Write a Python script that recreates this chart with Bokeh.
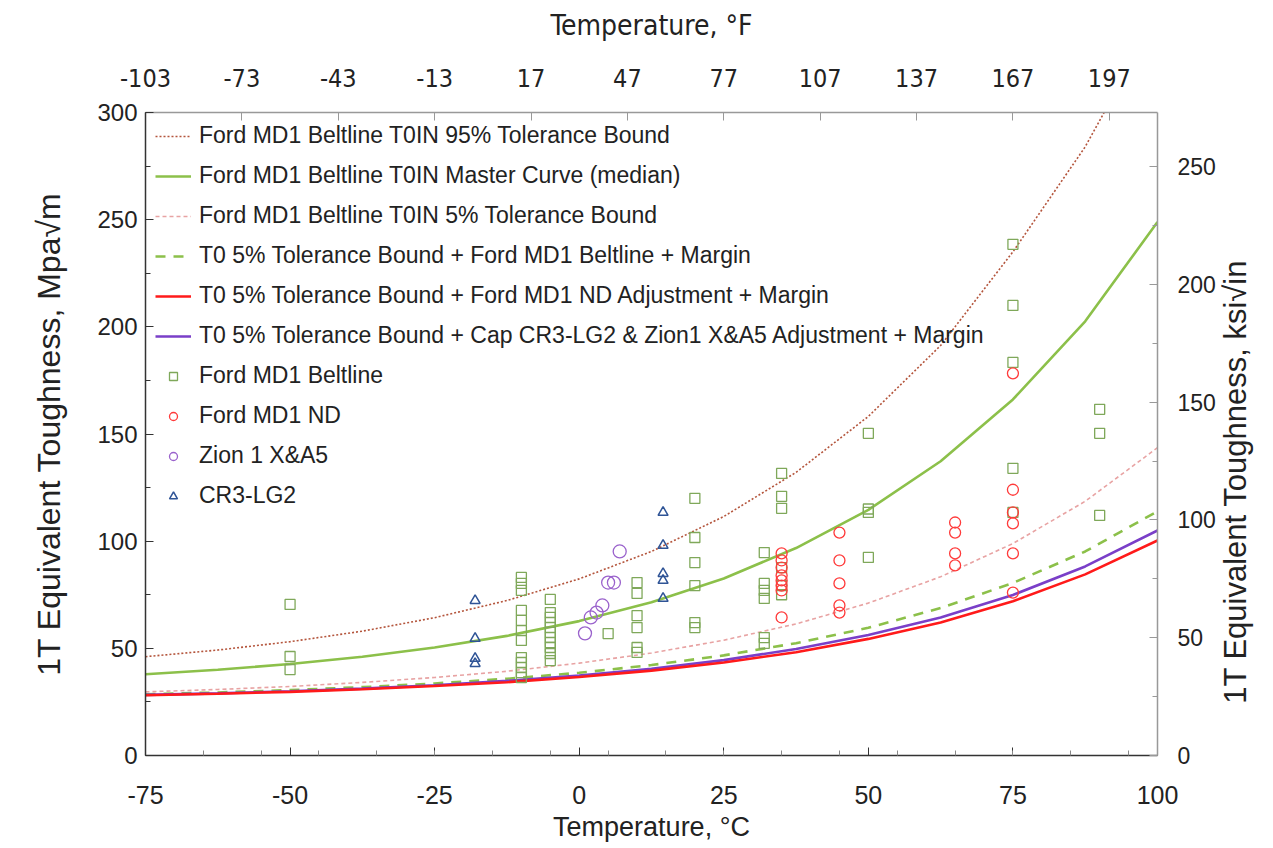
import math
from bokeh.plotting import figure
from bokeh.models import Range1d, LinearAxis, FixedTicker, Legend, LegendItem
from bokeh.embed import file_html
from bokeh.resources import INLINE

# ---------------- data ----------------
curve_t = [-75, -62.5, -50, -37.5, -25, -12.5, 0, 12.5, 25, 37.5, 50, 62.5, 75, 87.5, 100]
ub95 = [46.1, 49.2, 53.1, 58.0, 64.3, 72.3, 82.4, 95.2, 111.5, 132.1, 158.2, 191.3, 235.0, 284.0, 345.0]
median = [37.9, 40.0, 42.7, 46.1, 50.4, 55.8, 62.7, 71.5, 82.6, 96.8, 114.6, 137.3, 166.1, 202.6, 248.9]
lb5 = [29.7, 30.8, 32.2, 34.1, 36.4, 39.3, 43.1, 47.8, 53.8, 61.4, 71.1, 83.4, 98.9, 118.6, 143.6]
belt_margin = [28.6, 29.4, 30.5, 31.9, 33.6, 35.8, 38.6, 42.2, 46.7, 52.4, 59.6, 68.8, 80.5, 95.2, 113.9]
nd_adj = [28.1, 28.8, 29.7, 30.9, 32.4, 34.2, 36.6, 39.6, 43.4, 48.2, 54.4, 62.1, 72.0, 84.5, 100.3]
cap_adj = [28.3, 29.0, 30.0, 31.2, 32.8, 34.8, 37.3, 40.5, 44.5, 49.7, 56.2, 64.4, 74.9, 88.2, 105.0]

belt_t = [-50, -50, -50,
          -10, -10, -10, -10, -10, -10, -10, -10, -10, -10, -10, -10,
          -5, -5, -5, -5, -5, -5, -5, -5, -5, -5, -5,
          5,
          10, 10, 10, 10, 10, 10,
          20, 20, 20, 20, 20, 20,
          32, 32, 32, 32, 32, 32,
          35, 35, 35, 35, 35, 35,
          50, 50, 50, 50,
          75, 75, 75, 75, 75,
          90, 90, 90]
belt_k = [70.5, 46.2, 40.1,
          83.1, 80.3, 77.0, 67.7, 63.0, 58.3, 53.7, 45.7, 43.4, 41.1, 38.7, 36.4,
          72.8, 66.7, 64.4, 62.1, 59.7, 57.4, 55.1, 52.7, 50.4, 47.6, 44.3,
          56.9,
          80.7, 75.6, 65.3, 59.7, 50.4, 48.1,
          120.0, 101.7, 90.0, 79.3, 62.0, 59.7,
          94.7, 80.3, 77.0, 73.3, 55.0, 52.3,
          131.6, 120.9, 115.3, 87.7, 79.3, 75.0,
          150.3, 113.4, 115.0, 92.4,
          238.5, 210.0, 183.4, 134.0, 113.4,
          161.5, 150.3, 112.0]

nd_t = [35, 35, 35, 35, 35, 35, 35, 35,
        45, 45, 45, 45, 45,
        65, 65, 65, 65,
        75, 75, 75, 75, 75, 75]
nd_k = [94.3, 91.0, 87.7, 84.0, 81.7, 79.3, 77.0, 64.4,
        104.0, 91.0, 80.3, 70.0, 66.7,
        108.7, 104.0, 94.3, 88.7,
        178.3, 124.0, 113.4, 108.3, 94.3, 76.0]

zion_t = [1, 2, 3, 4, 5, 6, 7]
zion_k = [57.0, 64.4, 66.7, 70.0, 80.7, 80.7, 95.2]

cr3_t = [-18, -18, -18, -18, 14.5, 14.5, 14.5, 14.5, 14.5]
cr3_k = [72.3, 54.6, 45.3, 42.9, 113.4, 98.0, 84.9, 81.7, 73.3]

x_ticks_c = [-75, -50, -25, 0, 25, 50, 75, 100]
x_ticks_f = [-103, -73, -43, -13, 17, 47, 77, 107, 137, 167, 197]
y_ticks_mpa = [0, 50, 100, 150, 200, 250, 300]
y_ticks_ksi = [0, 50, 100, 150, 200, 250]

labels = [
    "Ford MD1 Beltline T0IN 95% Tolerance Bound",
    "Ford MD1 Beltline T0IN Master Curve (median)",
    "Ford MD1 Beltline T0IN 5% Tolerance Bound",
    "T0 5% Tolerance Bound + Ford MD1 Beltline + Margin",
    "T0 5% Tolerance Bound + Ford MD1 ND Adjustment + Margin",
    "T0 5% Tolerance Bound + Cap CR3-LG2 & Zion1 X&A5 Adjustment + Margin",
    "Ford MD1 Beltline",
    "Ford MD1 ND",
    "Zion 1 X&A5",
    "CR3-LG2",
]

# ---------------- figure ----------------
FONT = "Liberation Sans, Arial, sans-serif"
NARROW = "DejaVu Sans Condensed, Liberation Sans Narrow, Arial Narrow, Liberation Sans, sans-serif"

p = figure(width=1273, height=848, output_backend="svg", toolbar_location=None,
           x_range=Range1d(-75, 100), y_range=Range1d(0, 300),
           min_border_left=145, min_border_right=113, min_border_top=112, min_border_bottom=93,
           x_axis_location=None, y_axis_location=None)
p.xgrid.visible = False
p.ygrid.visible = False
p.outline_line_color = None
p.background_fill_color = "white"
p.border_fill_color = "white"

MPA_PER_KSI = 1.0988
p.extra_x_ranges = {"f": Range1d(-75 * 9 / 5 + 32, 100 * 9 / 5 + 32)}
p.extra_y_ranges = {"ksi": Range1d(0, 300 / MPA_PER_KSI)}


def style_axis(ax, line_color):
    ax.axis_line_color = line_color
    ax.axis_line_width = 1.5
    ax.major_tick_in = 8
    ax.major_tick_out = 0
    ax.minor_tick_in = 5
    ax.minor_tick_out = 0
    ax.major_tick_line_color = line_color
    ax.minor_tick_line_color = line_color
    ax.major_label_text_font = FONT
    ax.major_label_text_font_size = "24px"
    ax.major_label_text_color = "#222222"
    ax.axis_label_text_font = FONT
    ax.axis_label_text_font_size = "27px"
    ax.axis_label_text_font_style = "normal"
    ax.axis_label_text_color = "#222222"


left = LinearAxis(ticker=FixedTicker(ticks=y_ticks_mpa, minor_ticks=list(range(0, 301, 25))),
                  axis_label="1T Equivalent Toughness, Mpa\u221am")
style_axis(left, "#333333")
left.major_label_standoff = 8
left.axis_label_standoff = 27
left.axis_label_text_font_size = "32px"
p.add_layout(left, "left")

bottom = LinearAxis(ticker=FixedTicker(ticks=x_ticks_c, minor_ticks=list(range(-65, 100, 10))),
                    axis_label="Temperature, \u00b0C")
style_axis(bottom, "#333333")
bottom.major_label_text_font_size = "25px"
bottom.major_label_standoff = 30
bottom.axis_label_standoff = 5
bottom.minor_tick_line_color = "#888888"
bottom.major_label_overrides = {t: str(t) for t in x_ticks_c}
p.add_layout(bottom, "below")

top = LinearAxis(x_range_name="f", ticker=FixedTicker(ticks=x_ticks_f, minor_ticks=[]),
                 axis_label="Temperature, \u00b0F")
style_axis(top, "#999999")
top.major_label_text_font = NARROW
top.axis_label_text_font = NARROW
top.major_label_text_font_size = "25px"
top.axis_label_text_font_size = "28px"
top.major_label_standoff = 26
top.axis_label_standoff = 24
top.major_label_overrides = {t: str(t) for t in x_ticks_f}
p.add_layout(top, "above")

right = LinearAxis(y_range_name="ksi", ticker=FixedTicker(ticks=y_ticks_ksi, minor_ticks=list(range(0, 275, 25))),
                   axis_label="\u00a0" * 6 + "1T Equivalent Toughness, ksi\u221ain")
style_axis(right, "#999999")
right.major_label_text_font_size = "23px"
right.major_label_standoff = 20
right.axis_label_standoff = 17
right.axis_label_text_font_size = "31px"
right.axis_label_orientation = math.pi / 2
right.axis_label_align = "start"
p.add_layout(right, "right")

# ---------------- curves ----------------
r1 = p.line(curve_t, ub95, line_color="#b4553c", line_width=1.6, line_dash="2 2")
r2 = p.line(curve_t, median, line_color="#8cc04a", line_width=2.6)
r3 = p.line(curve_t, lb5, line_color="#e8a3a3", line_width=1.6, line_dash="4 3")
r4 = p.line(curve_t, belt_margin, line_color="#8cc04a", line_width=2.6, line_dash="10 8")
r6 = p.line(curve_t, cap_adj, line_color="#7a3fc8", line_width=2.6)
r5 = p.line(curve_t, nd_adj, line_color="#ff1a1a", line_width=2.6)

# ---------------- points ----------------
m1 = p.scatter(belt_t, belt_k, marker="square", size=10, fill_color=None, line_color="#7fa85a", line_width=1.3)
m2 = p.scatter(nd_t, nd_k, marker="circle", size=11, fill_color=None, line_color="#ff3a3a", line_width=1.3)
m3 = p.scatter(zion_t, zion_k, marker="circle", size=13, fill_color=None, line_color="#9a62cc", line_width=1.3)
m4 = p.scatter(cr3_t, cr3_k, marker="triangle", size=10, fill_color=None, line_color="#2f5496", line_width=1.5)

legend = Legend(items=[LegendItem(label=l, renderers=[r]) for l, r in
                       zip(labels, [r1, r2, r3, r4, r5, r6, m1, m2, m3, m4])],
                location="top_left")
legend.background_fill_alpha = 0
legend.border_line_alpha = 0
legend.margin = 0
legend.padding = 10
legend.spacing = 13
legend.glyph_width = 36
legend.glyph_height = 20
legend.label_height = 20
legend.label_standoff = 8
legend.label_text_font = FONT
legend.label_text_font_size = "23px"
legend.label_text_color = "#222222"
p.add_layout(legend, "center")

open("out.html", "w").write(file_html(p, INLINE))
